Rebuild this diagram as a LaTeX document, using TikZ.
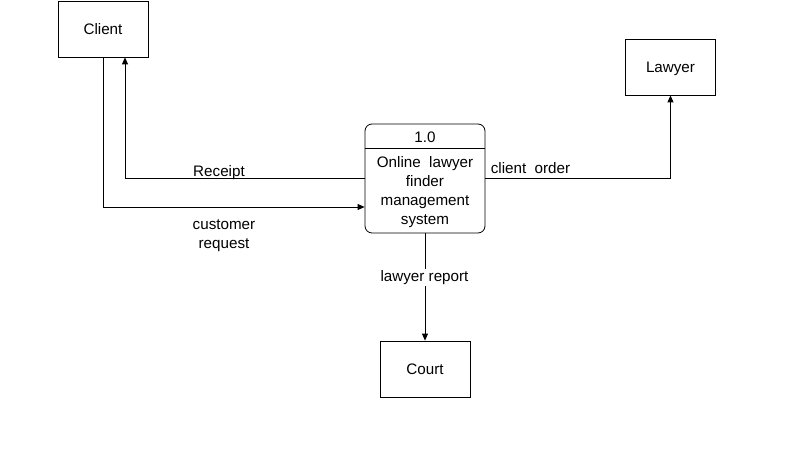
\documentclass[tikz,border=0pt]{standalone}
\usepackage{fontspec}
\setmainfont{Liberation Sans}
\usepackage{tikz}
\usetikzlibrary{arrows.meta}

\begin{document}
\begin{tikzpicture}[x=1pt,y=-1pt,line width=0.8pt,
  entity/.style={draw=black, minimum width=90pt, minimum height=56pt, text height=11pt, text depth=0pt},
  flow/.style={-{Triangle[length=7pt,width=6pt]}},
  txt/.style={font=\fontsize{15.2}{19}\selectfont, align=center, inner sep=0pt}]
\useasboundingbox (0,0) rectangle (793,457);
%entities:
\node[entity, txt] (client) at (103,29) {Client};
\node[entity, txt] (lawyer) at (670.5,67) {Lawyer};
\node[entity, txt] (court) at (425,369) {Court};
%process:
\node[draw=black, rounded corners=7pt, minimum width=120pt, minimum height=109pt] (proc) at (425,178.5) {};
\draw (proc.west |- 0,148) -- (proc.east |- 0,148);
\node[txt] (num) at (425,137.5) {1.0};
\node[txt] (desc) at (425,192.5) {Online\ \ lawyer\\finder\\management\\system};
%flows:
\draw[flow] (proc.west |- 0,178) -| ([xshift=22pt]client.south);
\draw[flow] (client.south) |- (proc.west |- 0,207);
\draw[flow] (proc.east |- 0,178) -| (lawyer.south);
\draw[flow] (proc.south) -- (court.north);
%labels:
\node[txt] (receipt) at (219,172.5) {Receipt};
\node[txt] (request) at (224,236) {customer\\request};
\node[txt] (order) at (530.5,168.5) {client\ \ order};
\node[txt, fill=white, inner sep=1pt] (report) at (424.5,277.5) {lawyer report};
\end{tikzpicture}
\end{document}
